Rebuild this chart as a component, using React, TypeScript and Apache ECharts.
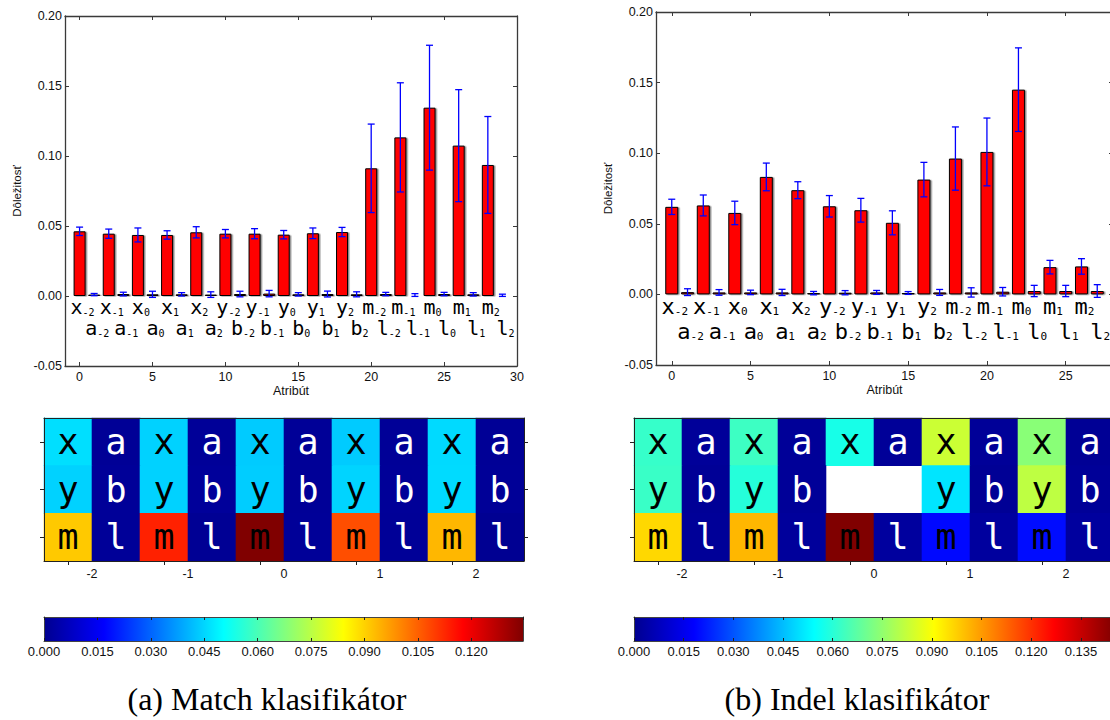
import React, { useEffect, useRef } from 'react';
import * as echarts from 'echarts';

// ---------- DATA ----------
const matchAttributes = ['x_-2','a_-2','x_-1','a_-1','x_0','a_0','x_1','a_1','x_2','a_2','y_-2','b_-2','y_-1','b_-1','y_0','b_0','y_1','b_1','y_2','b_2','m_-2','l_-2','m_-1','l_-1','m_0','l_0','m_1','l_1','m_2','l_2'];
const matchImportance = [0.0462,0.0010,0.0445,0.0014,0.0436,0.0012,0.0436,0.0012,0.0455,0.0010,0.0445,0.0014,0.0445,0.0017,0.0438,0.0012,0.0448,0.0014,0.0457,0.0012,0.0912,0.0014,0.1133,0.0007,0.1345,0.0014,0.1074,0.0012,0.0936,0.0005];
const matchStd = [0.0030,0.0008,0.0033,0.0013,0.0050,0.0022,0.0030,0.0012,0.0040,0.0020,0.0030,0.0020,0.0036,0.0023,0.0030,0.0012,0.0038,0.0021,0.0033,0.0018,0.0316,0.0012,0.0390,0.0010,0.0446,0.0012,0.0400,0.0012,0.0346,0.0008];

const indelAttributes = ['x_-2','a_-2','x_-1','a_-1','x_0','a_0','x_1','a_1','x_2','a_2','y_-2','b_-2','y_-1','b_-1','y_1','b_1','y_2','b_2','m_-2','l_-2','m_-1','l_-1','m_0','l_0','m_1','l_1','m_2','l_2'];
const indelImportance = [0.0620,0.0016,0.0630,0.0014,0.0577,0.0014,0.0832,0.0014,0.0738,0.0009,0.0624,0.0012,0.0596,0.0014,0.0507,0.0010,0.0813,0.0014,0.0962,0.0014,0.1009,0.0019,0.1450,0.0024,0.0193,0.0024,0.0198,0.0024];
const indelStd = [0.0054,0.0024,0.0074,0.0020,0.0083,0.0016,0.0098,0.0022,0.0060,0.0012,0.0076,0.0015,0.0084,0.0014,0.0085,0.0010,0.0122,0.0021,0.0224,0.0033,0.0240,0.0030,0.0296,0.0040,0.0048,0.0040,0.0055,0.0045];

const positions = [-2, -1, 0, 1, 2];
const letterRows: Record<string, number> = { x: 0, a: 0, y: 1, b: 1, m: 2, l: 2 };
const primaryLetters = ['x', 'y', 'm'];
const barTicksMatch = [0, 5, 10, 15, 20, 25, 30];
const barTicksIndel = [0, 5, 10, 15, 20, 25];
const yTicks = { min: -0.05, max: 0.2, interval: 0.05 };
const colorbarStep = 0.015;
const captions = ['(a) Match klasifikátor', '(b) Indel klasifikátor'];

const JET = ['#00008f', '#0000ff', '#0080ff', '#00ffff', '#80ff80', '#ffff00', '#ff8000', '#ff0000', '#800000'];

const SANS = '"Liberation Sans", Arial, Helvetica, sans-serif';
const MONO = '"DejaVu Sans Mono", monospace';
const AX = '#3a3a3a';

function parseAttr(a: string) {
  const [letter, pos] = a.split('_');
  return { letter, pos: Number(pos) };
}

function buildPanel(
  opt: any,
  attrs: string[],
  vals: number[],
  errs: number[],
  xTicks: number[],
  geo: any
) {
  const xMax = attrs.length;
  const maxVal = Math.max(...vals);
  const axisLine = { show: true, onZero: false, lineStyle: { color: AX, width: 1.3 } };

  // ----- bar chart grid -----
  const gBar = opt.grid.length;
  opt.grid.push({ left: geo.barLeft, top: geo.barTop, width: geo.barW, height: geo.barH, containLabel: false, outerBoundsMode: 'none' });
  const xb = opt.xAxis.length;
  opt.xAxis.push({
    gridIndex: gBar, type: 'value', min: -1, max: xMax,
    axisLine, splitLine: { show: false },
    axisTick: { show: true, inside: true, length: 4, customValues: xTicks, lineStyle: { color: AX } },
    axisLabel: { show: true, customValues: xTicks, fontSize: 12.5, fontFamily: SANS, color: '#111', margin: 4 },
    name: 'Atribút', nameLocation: 'middle', nameGap: 18,
    nameTextStyle: { fontSize: 12.5, fontFamily: SANS, color: '#111' },
  });
  opt.xAxis.push({
    gridIndex: gBar, type: 'value', position: 'top', min: -1, max: xMax,
    axisLine, splitLine: { show: false },
    axisTick: { show: true, inside: true, length: 4, customValues: xTicks, lineStyle: { color: AX } },
    axisLabel: { show: false },
  });
  const yb = opt.yAxis.length;
  opt.yAxis.push({
    gridIndex: gBar, type: 'value', min: yTicks.min, max: yTicks.max, interval: yTicks.interval,
    axisLine, splitLine: { show: false },
    axisTick: { show: true, inside: true, length: 4, lineStyle: { color: AX } },
    axisLabel: { formatter: (v: number) => v.toFixed(2), fontSize: 12.5, fontFamily: SANS, color: '#111', margin: 3 },
    name: 'Dôležitosť', nameLocation: 'middle', nameGap: 42,
    nameTextStyle: { fontSize: 11.5, fontFamily: SANS, color: '#111' },
  });
  opt.yAxis.push({
    gridIndex: gBar, type: 'value', position: 'right', min: yTicks.min, max: yTicks.max, interval: yTicks.interval,
    axisLine, splitLine: { show: false },
    axisTick: { show: true, inside: true, length: 4, lineStyle: { color: AX } },
    axisLabel: { show: false },
  });

  const richLabels = attrs.map((a) => {
    const { letter, pos } = parseAttr(a);
    return `{m|${letter}}{s|${pos}}`;
  });
  opt.series.push({
    type: 'bar', xAxisIndex: xb, yAxisIndex: yb, barWidth: geo.barWidth, z: 2,
    itemStyle: { color: '#ff0000', borderColor: '#000', borderWidth: 1, shadowColor: 'rgba(0,0,0,0.45)', shadowOffsetX: 1.5, shadowOffsetY: 0.5, shadowBlur: 0 },
    data: vals.map((v, i) => {
      const primary = primaryLetters.includes(parseAttr(attrs[i]).letter);
      return { value: [i, v], label: { distance: primary ? geo.row1 : geo.row2 } };
    }),
    label: {
      show: true, position: 'bottom', offset: [3, 0], align: 'center',
      formatter: (p: any) => richLabels[p.dataIndex],
      rich: {
        m: { fontFamily: MONO, fontSize: geo.labelFont, lineHeight: geo.labelFont, color: '#000' },
        s: { fontFamily: MONO, fontSize: geo.subFont, lineHeight: geo.subFont, verticalAlign: 'bottom', color: '#000' },
      },
    },
  });
  opt.series.push({
    type: 'custom', xAxisIndex: xb, yAxisIndex: yb, z: 4,
    encode: { x: 0, y: [1, 2] },
    data: vals.map((v, i) => [i, v - errs[i], v + errs[i]]),
    renderItem: (params: any, api: any) => {
      const x = api.value(0);
      const lo = api.coord([x, api.value(1)]);
      const hi = api.coord([x, api.value(2)]);
      const w = 3.5;
      const st = { stroke: '#0000ff', lineWidth: 1.3 };
      return {
        type: 'group',
        children: [
          { type: 'line', shape: { x1: lo[0], y1: lo[1], x2: hi[0], y2: hi[1] }, style: st },
          { type: 'line', shape: { x1: lo[0] - w, y1: lo[1], x2: lo[0] + w, y2: lo[1] }, style: st },
          { type: 'line', shape: { x1: hi[0] - w, y1: hi[1], x2: hi[0] + w, y2: hi[1] }, style: st },
        ],
      };
    },
  });

  // ----- heatmap grid -----
  const gHeat = opt.grid.length;
  opt.grid.push({ left: geo.heatLeft, top: 418, width: 480, height: 143, containLabel: false, outerBoundsMode: 'none' });
  const xh = opt.xAxis.length;
  const heatLine = { show: true, onZero: false, lineStyle: { color: '#222', width: 1 } };
  opt.xAxis.push({
    gridIndex: gHeat, type: 'value', min: 0, max: positions.length * 2, z: 5,
    axisLine: heatLine, splitLine: { show: false },
    axisTick: { show: true, inside: false, length: 4, customValues: positions.map((_, k) => 2 * k + 0.5), lineStyle: { color: '#222' } },
    axisLabel: { show: true, customValues: positions.map((_, k) => 2 * k + 1), formatter: (v: number) => String(positions[Math.round((v - 1) / 2)]), fontSize: 12.5, fontFamily: SANS, color: '#111', margin: 6 },
  });
  opt.xAxis.push({
    gridIndex: gHeat, type: 'value', position: 'top', min: 0, max: positions.length * 2, z: 5,
    axisLine: heatLine, splitLine: { show: false }, axisTick: { show: false }, axisLabel: { show: false },
  });
  const yh = opt.yAxis.length;
  const rowTicks = { show: true, inside: false, length: 4, customValues: [0.5, 1.5, 2.5], lineStyle: { color: '#222' } };
  opt.yAxis.push({
    gridIndex: gHeat, type: 'value', min: 0, max: 3, inverse: true, z: 5,
    axisLine: heatLine, splitLine: { show: false }, axisTick: rowTicks, axisLabel: { show: false },
  });
  opt.yAxis.push({
    gridIndex: gHeat, type: 'value', position: 'right', min: 0, max: 3, inverse: true, z: 5,
    axisLine: heatLine, splitLine: { show: false }, axisTick: rowTicks, axisLabel: { show: false },
  });
  const cells: number[][] = [];
  const cellLetters: string[] = [];
  attrs.forEach((a, i) => {
    const { letter, pos } = parseAttr(a);
    const col = 2 * positions.indexOf(pos) + (primaryLetters.includes(letter) ? 0 : 1);
    cells.push([col, letterRows[letter], vals[i]]);
    cellLetters.push(letter);
  });
  const heatSeriesIndex = opt.series.length;
  opt.series.push({
    type: 'custom', xAxisIndex: xh, yAxisIndex: yh, z: 2,
    encode: { x: 0, y: 1 },
    data: cells,
    renderItem: (params: any, api: any) => {
      const c = api.value(0), r = api.value(1);
      const p0 = api.coord([c, r]);
      const p1 = api.coord([c + 1, r + 1]);
      const x = Math.min(p0[0], p1[0]), y = Math.min(p0[1], p1[1]);
      const w = Math.abs(p1[0] - p0[0]), h = Math.abs(p1[1] - p0[1]);
      const letter = cellLetters[params.dataIndex];
      return {
        type: 'group',
        children: [
          { type: 'rect', shape: { x: x - 0.3, y: y - 0.3, width: w + 0.6, height: h + 0.6 }, style: { fill: api.visual('color') } },
          {
            type: 'text', x: x + w / 2, y: y + h / 2,
            style: {
              text: letter, fill: primaryLetters.includes(letter) ? '#000' : '#fff',
              fontFamily: MONO, fontSize: 35, align: 'center', verticalAlign: 'middle',
            },
          },
        ],
      };
    },
  });
  opt.visualMap.push({
    type: 'continuous', show: false, seriesIndex: heatSeriesIndex, dimension: 2,
    min: 0, max: maxVal, inRange: { color: JET },
  });

  // ----- colorbar grid -----
  const gCb = opt.grid.length;
  opt.grid.push({ left: geo.heatLeft, top: 617, width: maxVal * geo.cbScale, height: 24, containLabel: false, outerBoundsMode: 'none' });
  const xc = opt.xAxis.length;
  const cbLine = { show: true, onZero: false, lineStyle: { color: '#444', width: 1 } };
  opt.xAxis.push({
    gridIndex: gCb, type: 'value', min: 0, max: maxVal, interval: colorbarStep, z: 5,
    axisLine: cbLine, splitLine: { show: false },
    axisTick: { show: true, inside: true, length: 3, lineStyle: { color: '#222' } },
    axisLabel: { formatter: (v: number) => v.toFixed(3), fontSize: 13, fontFamily: SANS, color: '#111', margin: 4, showMaxLabel: false, showMinLabel: true },
  });
  opt.xAxis.push({
    gridIndex: gCb, type: 'value', position: 'top', min: 0, max: maxVal, interval: colorbarStep, z: 5,
    axisLine: cbLine, splitLine: { show: false },
    axisTick: { show: true, inside: true, length: 3, lineStyle: { color: '#222' } },
    axisLabel: { show: false },
  });
  const yc = opt.yAxis.length;
  opt.yAxis.push({
    gridIndex: gCb, type: 'value', min: 0, max: 1, z: 5,
    axisLine: cbLine, splitLine: { show: false }, axisTick: { show: false }, axisLabel: { show: false },
  });
  opt.yAxis.push({
    gridIndex: gCb, type: 'value', position: 'right', min: 0, max: 1, z: 5,
    axisLine: cbLine, splitLine: { show: false }, axisTick: { show: false }, axisLabel: { show: false },
  });
  opt.series.push({
    type: 'custom', xAxisIndex: xc, yAxisIndex: yc, z: 1,
    data: [[0, 0, maxVal, 1]],
    encode: { x: [0, 2], y: [1, 3] },
    renderItem: (params: any, api: any) => {
      const p0 = api.coord([api.value(0), api.value(1)]);
      const p1 = api.coord([api.value(2), api.value(3)]);
      return {
        type: 'rect',
        shape: { x: p0[0], y: p1[1], width: p1[0] - p0[0], height: p0[1] - p1[1] },
        style: {
          fill: {
            type: 'linear', x: 0, y: 0, x2: 1, y2: 0,
            colorStops: JET.map((c, k) => ({ offset: k / (JET.length - 1), color: c })),
          },
        },
      };
    },
  });

  opt.graphic.push({
    type: 'text', x: geo.captionX, y: 699,
    style: { text: geo.caption, fontFamily: '"Liberation Serif", "Times New Roman", serif', fontSize: 32, fill: '#000', align: 'center', verticalAlign: 'middle' },
  });
}

export default function App() {
  const ref = useRef<HTMLDivElement>(null);
  useEffect(() => {
    if (!ref.current) return;
    const chart = echarts.init(ref.current, undefined, { renderer: 'svg' });
    const opt: any = { animation: false, backgroundColor: '#fff', grid: [], xAxis: [], yAxis: [], series: [], visualMap: [], graphic: [] };
    buildPanel(opt, matchAttributes, matchImportance, matchStd, barTicksMatch, {
      barLeft: 65, barTop: 16, barW: 452, barH: 350, barWidth: 12,
      row1: 1, row2: 22, labelFont: 20, subFont: 10,
      heatLeft: 44, cbScale: 479 / 0.1345, captionX: 267, caption: captions[0],
    });
    buildPanel(opt, indelAttributes, indelImportance, indelStd, barTicksIndel, {
      barLeft: 656, barTop: 12, barW: 457, barH: 353, barWidth: 13,
      row1: 1, row2: 26, labelFont: 22, subFont: 11,
      heatLeft: 634, cbScale: 3311, captionX: 857, caption: captions[1],
    });
    chart.setOption(opt);
    return () => chart.dispose();
  }, []);
  return <div ref={ref} style={{ position: 'fixed', left: 0, top: 0, width: 1110, height: 720, background: '#fff' }} />;
}
